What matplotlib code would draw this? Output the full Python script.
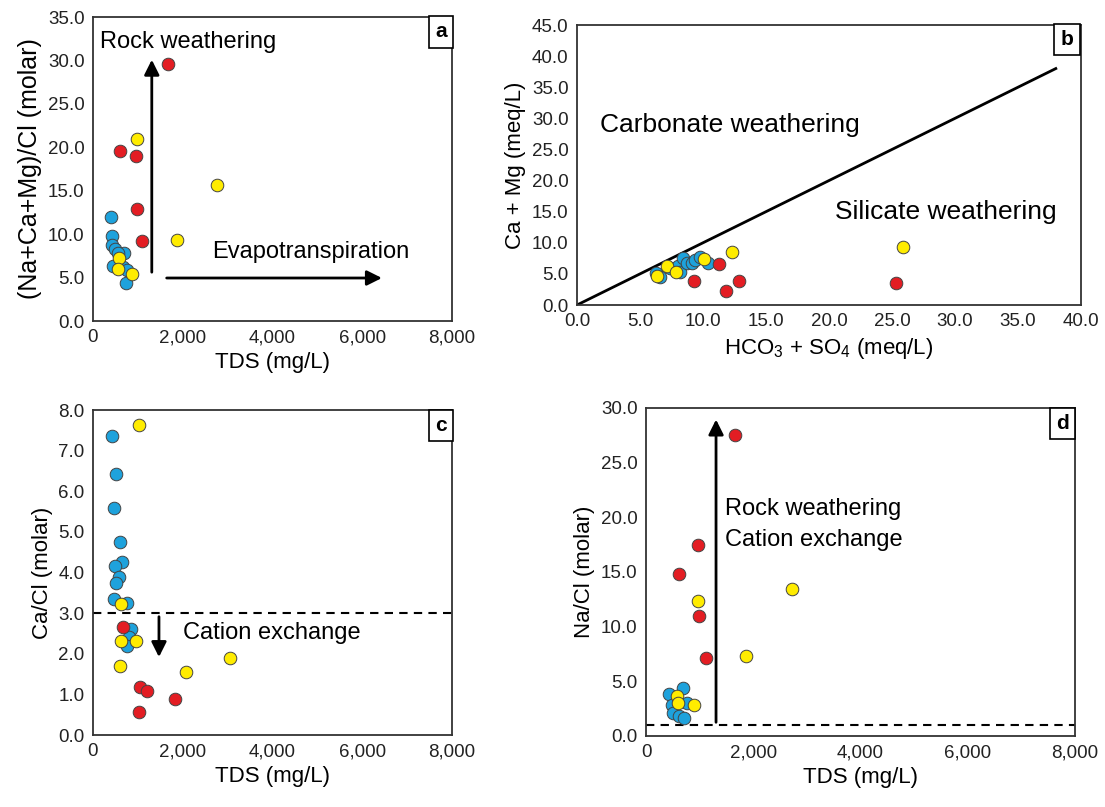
import numpy as np
import matplotlib
matplotlib.use("Agg")
import matplotlib.pyplot as plt
from matplotlib.ticker import FuncFormatter, MultipleLocator

plt.rcParams['font.family'] = ['Liberation Sans', 'DejaVu Sans']
plt.rcParams['mathtext.default'] = 'regular'

# colours of the three sample groups
c_blue = '#1ea2dc'
c_red = '#e31d23'
c_yel = '#ffec00'

# --- panel a: TDS vs (Na+Ca+Mg)/Cl ---
a_blue_tds = [401, 430, 416, 490, 697, 563, 452, 675, 750, 728]
a_blue_y = [12.0, 9.8, 8.75, 8.25, 7.86, 7.8, 6.33, 6.25, 5.87, 4.34]
a_red_tds = [1664, 601, 951, 973, 1098]
a_red_y = [29.6, 19.6, 19.0, 12.9, 9.25]
a_yel_tds = [973, 2768, 1864, 579, 550, 875]
a_yel_y = [20.95, 15.7, 9.3, 7.2, 5.95, 5.4]

# --- panel b: HCO3+SO4 vs Ca+Mg ---
b_blue_x = [6.3, 6.6, 7.4, 8.0, 8.2, 8.44, 8.7, 9.1, 9.4, 9.76, 10.42]
b_blue_y = [5.2, 4.55, 5.9, 6.2, 5.35, 7.5, 6.7, 6.7, 7.2, 7.77, 6.7]
b_red_x = [9.31, 11.27, 11.8, 12.88, 25.3]
b_red_y = [3.9, 6.54, 2.3, 3.9, 3.5]
b_yel_x = [6.32, 7.12, 7.83, 10.1, 12.28, 25.9]
b_yel_y = [4.71, 6.32, 5.35, 7.4, 8.47, 9.37]
line_b = [0, 38]

# --- panel c: TDS vs Ca/Cl ---
c_blue_tds = [416, 505, 468, 601, 639, 490, 579, 512, 468, 750, 840, 809, 765]
c_blue_y = [7.37, 6.43, 5.6, 4.76, 4.27, 4.17, 3.88, 3.74, 3.35, 3.24, 2.6, 2.42, 2.19]
c_red_tds = [661, 1047, 1210, 1826, 1032]
c_red_y = [2.67, 1.17, 1.08, 0.89, 0.57]
c_yel_tds = [1032, 617, 617, 951, 601, 2065, 3051]
c_yel_y = [7.64, 3.23, 2.32, 2.32, 1.7, 1.56, 1.89]

# --- panel d: TDS vs Na/Cl ---
d_blue_tds = [696, 435, 759, 479, 509, 621, 715]
d_blue_y = [4.36, 3.81, 2.99, 2.84, 2.08, 1.83, 1.68]
d_red_tds = [1660, 964, 621, 995, 1119]
d_red_y = [27.5, 17.5, 14.8, 10.98, 7.1]
d_yel_tds = [2718, 964, 1866, 572, 603, 896]
d_yel_y = [13.45, 12.35, 7.32, 3.66, 3.05, 2.84]

fig = plt.figure(figsize=(11.05, 8.07), dpi=100)
W, H = 1105, 807


def box(l, t, r, b):
    return [l / W, 1 - b / H, (r - l) / W, (b - t) / H]


ax_a = fig.add_axes(box(93, 17, 452, 321))
ax_b = fig.add_axes(box(577, 25, 1081, 305))
ax_c = fig.add_axes(box(93, 410, 452, 735))
ax_d = fig.add_axes(box(646, 408, 1075, 736))

kw = dict(s=82, edgecolors='#444444', linewidths=0.7, zorder=3)
thou = FuncFormatter(lambda v, p: f'{int(v):,}')
one = FuncFormatter(lambda v, p: f'{v:.1f}')


def style(ax, letter, xlim, xstep, ylim, ystep, xfmt):
    ax.set_xlim(*xlim)
    ax.set_ylim(*ylim)
    ax.xaxis.set_major_locator(MultipleLocator(xstep))
    ax.yaxis.set_major_locator(MultipleLocator(ystep))
    ax.xaxis.set_major_formatter(xfmt)
    ax.yaxis.set_major_formatter(one)
    ax.tick_params(length=0, labelsize=13.5, pad=6, colors='#222222')
    for s in ax.spines.values():
        s.set_color('#333333')
        s.set_linewidth(1.3)
    ax.text(0.985, 0.982, letter, transform=ax.transAxes, ha='right', va='top',
            fontsize=15, fontweight='bold',
            bbox=dict(boxstyle='square,pad=0.3', fc='white', ec='black', lw=1.2))


arrow = dict(arrowstyle='-|>,head_length=0.9,head_width=0.45', color='black', lw=2)

# panel a
ax_a.scatter(a_blue_tds, a_blue_y, c=c_blue, **kw)
ax_a.scatter(a_red_tds, a_red_y, c=c_red, **kw)
ax_a.scatter(a_yel_tds, a_yel_y, c=c_yel, **kw)
ax_a.annotate('', xy=(1310, 30.4), xytext=(1310, 5.3), arrowprops=arrow)
ax_a.annotate('', xy=(6500, 4.95), xytext=(1580, 4.95), arrowprops=arrow)
ax_a.text(150, 32.1, 'Rock weathering', fontsize=17, va='center')
ax_a.text(2650, 7.9, 'Evapotranspiration', fontsize=17, va='center')
style(ax_a, 'a', (0, 8000), 2000, (0, 35), 5, thou)
ax_a.set_xlabel('TDS (mg/L)', fontsize=16)
ax_a.set_ylabel('(Na+Ca+Mg)/Cl (molar)', fontsize=18)

# panel b
ax_b.plot(line_b, line_b, color='black', lw=2, zorder=2)
ax_b.scatter(b_blue_x, b_blue_y, c=c_blue, **kw)
ax_b.scatter(b_red_x, b_red_y, c=c_red, **kw)
ax_b.scatter(b_yel_x, b_yel_y, c=c_yel, **kw)
ax_b.text(1.8, 28.9, 'Carbonate weathering', fontsize=19, va='center')
ax_b.text(20.5, 15.0, 'Silicate weathering', fontsize=19, va='center')
style(ax_b, 'b', (0, 40), 5, (0, 45), 5, one)
ax_b.set_xlabel('HCO$_3$ + SO$_4$ (meq/L)', fontsize=16)
ax_b.set_ylabel('Ca + Mg (meq/L)', fontsize=16)

# panel c
ax_c.axhline(3.0, color='black', lw=1.5, ls=(0, (4, 3)), zorder=2)
ax_c.scatter(c_blue_tds, c_blue_y, c=c_blue, **kw)
ax_c.scatter(c_red_tds, c_red_y, c=c_red, **kw)
ax_c.scatter(c_yel_tds, c_yel_y, c=c_yel, **kw)
ax_c.annotate('', xy=(1470, 1.85), xytext=(1470, 2.98), arrowprops=arrow)
ax_c.text(2000, 2.5, 'Cation exchange', fontsize=17, va='center')
style(ax_c, 'c', (0, 8000), 2000, (0, 8), 1, thou)
ax_c.set_xlabel('TDS (mg/L)', fontsize=16)
ax_c.set_ylabel('Ca/Cl (molar)', fontsize=16)

# panel d
ax_d.axhline(1.0, color='black', lw=1.5, ls=(0, (4, 3)), zorder=2)
ax_d.scatter(d_blue_tds, d_blue_y, c=c_blue, **kw)
ax_d.scatter(d_red_tds, d_red_y, c=c_red, **kw)
ax_d.scatter(d_yel_tds, d_yel_y, c=c_yel, **kw)
ax_d.annotate('', xy=(1306, 29.2), xytext=(1306, 1.0), arrowprops=arrow)
ax_d.text(1470, 20.8, 'Rock weathering', fontsize=17, va='center')
ax_d.text(1470, 17.9, 'Cation exchange', fontsize=17, va='center')
style(ax_d, 'd', (0, 8000), 2000, (0, 30), 5, thou)
ax_d.set_xlabel('TDS (mg/L)', fontsize=16)
ax_d.set_ylabel('Na/Cl (molar)', fontsize=16)

fig.savefig('out.png', dpi=100)
